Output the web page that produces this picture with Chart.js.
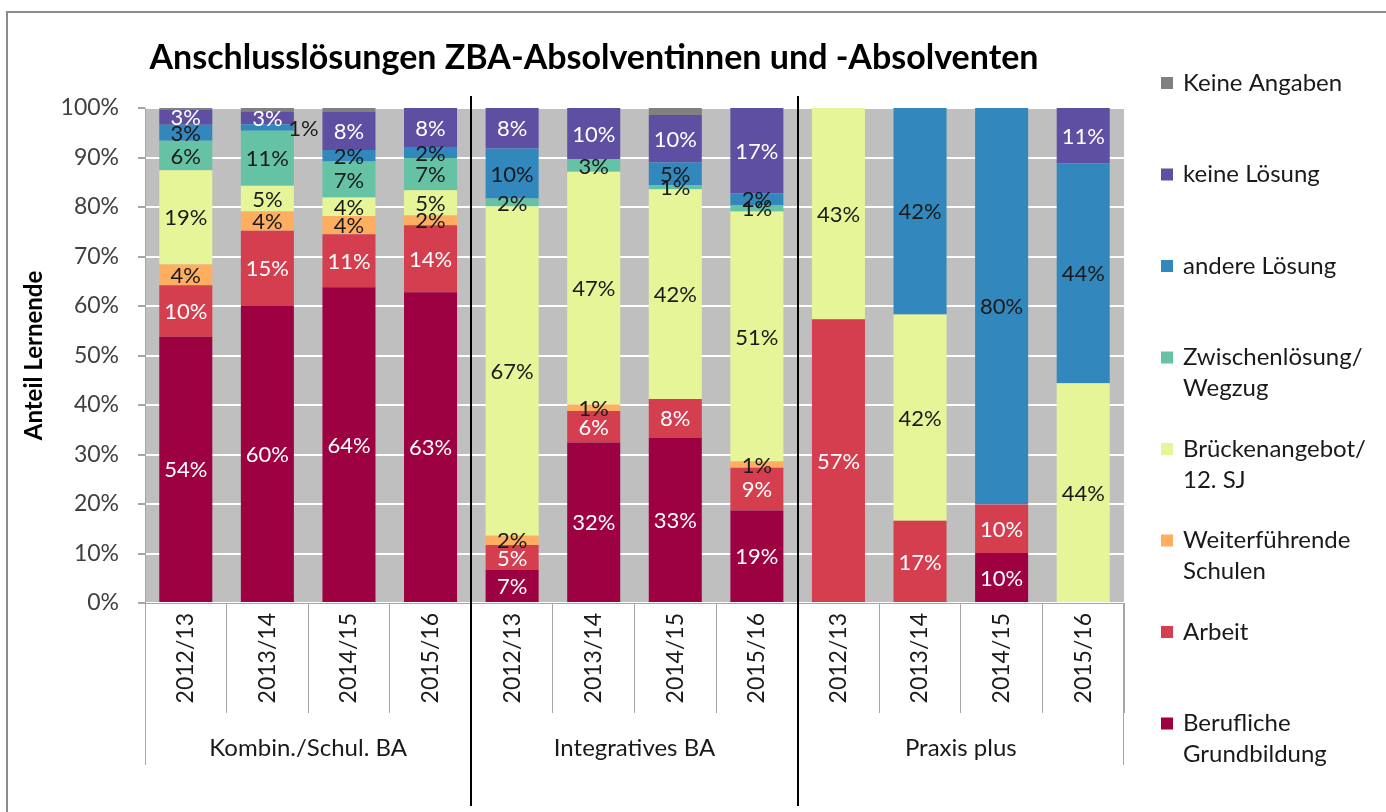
<!DOCTYPE html>
<html>
<head>
<meta charset="utf-8">
<style>
  body { margin: 0; background: #fff; }
  #wrap { width: 1386px; height: 812px; }
</style>
</head>
<body>
<div id="wrap">
  <canvas id="myChart" width="1386" height="812"></canvas>
</div>

<script src="https://cdn.jsdelivr.net/npm/chart.js"></script>

<script>
  // categories
  const years = ['2012/13', '2013/14', '2014/15', '2015/16',
                 '2012/13', '2013/14', '2014/15', '2015/16',
                 '2012/13', '2013/14', '2014/15', '2015/16'];
  const groups = ['Kombin./Schul. BA', 'Integratives BA', 'Praxis plus'];

  // shares in % (bottom to top of each bar)
  const berufliche   = [53.8, 60.0, 63.8, 62.8, 6.7, 32.4, 33.4, 18.7, 0, 0, 10.1, 0];
  const arbeit       = [10.4, 15.2, 10.7, 13.5, 5.0, 6.4, 7.8, 8.6, 57.3, 16.6, 9.8, 0];
  const weiter       = [4.2, 3.9, 3.7, 2.0, 1.9, 1.3, 0, 1.3, 0, 0, 0, 0];
  const bruecken     = [19.0, 5.2, 3.7, 5.1, 66.5, 47.0, 42.4, 50.5, 42.7, 41.7, 0, 44.4];
  const zwischen     = [6.0, 11.1, 7.3, 6.5, 1.6, 2.6, 0.8, 1.3, 0, 0, 0, 0];
  const andere       = [3.2, 1.3, 2.3, 2.2, 10.1, 0, 4.6, 2.4, 0, 41.7, 80.1, 44.4];
  const keine        = [3.1, 2.6, 7.7, 7.9, 8.2, 10.3, 9.6, 17.2, 0, 0, 0, 11.2];
  const keineAngaben = [0.3, 0.7, 0.8, 0, 0, 0, 1.4, 0, 0, 0, 0, 0];

  const yTicks = [0, 10, 20, 30, 40, 50, 60, 70, 80, 90, 100];

  const series = [
    { lines: ['Berufliche', 'Grundbildung'], data: berufliche, color: '#9E0142', text: '#FFFFFF' },
    { lines: ['Arbeit'], data: arbeit, color: '#D53E4F', text: '#FFFFFF' },
    { lines: ['Weiterführende', 'Schulen'], data: weiter, color: '#FDAE61', text: '#1A1A1A' },
    { lines: ['Brückenangebot/', '12. SJ'], data: bruecken, color: '#E6F598', text: '#1A1A1A' },
    { lines: ['Zwischenlösung/', 'Wegzug'], data: zwischen, color: '#66C2A5', text: '#1A1A1A' },
    { lines: ['andere Lösung'], data: andere, color: '#3288BD', text: '#1A1A1A' },
    { lines: ['keine Lösung'], data: keine, color: '#5E4FA2', text: '#FFFFFF' },
    { lines: ['Keine Angaben'], data: keineAngaben, color: '#808080', text: null }
  ];

  // the one label Excel moved beside its bar
  const labelShift = { '5-1': 36 };

  let datasets = [];
  for (let s of series) {
    datasets.push({
      label: s.lines.join(' '),
      data: s.data,
      backgroundColor: s.color,
      borderWidth: 0,
      barPercentage: 0.65,
      categoryPercentage: 1.0
    });
  }

  const FONT = 'Lato, "Open Sans", sans-serif';

  const decor = {
    id: 'decor',
    beforeDraw(chart) {
      const { ctx, chartArea: a } = chart;
      ctx.save();
      ctx.fillStyle = '#BFBFBF';
      ctx.fillRect(a.left, a.top, a.right - a.left, a.bottom - a.top);
      ctx.strokeStyle = '#8C8C8C';
      ctx.lineWidth = 2;
      ctx.beginPath();
      ctx.moveTo(7, 830);
      ctx.lineTo(7, 12);
      ctx.lineTo(1400, 12);
      ctx.stroke();
      ctx.restore();
    },
    afterDatasetsDraw(chart) {
      const ctx = chart.ctx;
      ctx.save();
      ctx.font = '22px ' + FONT;
      ctx.textAlign = 'center';
      ctx.textBaseline = 'middle';
      chart.data.datasets.forEach((ds, di) => {
        const col = series[di].text;
        if (!col) return;
        const meta = chart.getDatasetMeta(di);
        meta.data.forEach((bar, i) => {
          const v = ds.data[i];
          if (!v) return;
          const dx = labelShift[di + '-' + i] || 0;
          ctx.fillStyle = dx ? '#1A1A1A' : col;
          ctx.fillText(Math.round(v) + '%', bar.x + dx, (bar.y + bar.base) / 2 + 1);
        });
      });
      ctx.restore();
    },
    afterDraw(chart) {
      const { ctx, chartArea: a } = chart;
      const x = chart.scales.x;
      ctx.save();

      // title
      ctx.fillStyle = '#000';
      ctx.font = 'bold 34px ' + FONT;
      ctx.textAlign = 'center';
      ctx.textBaseline = 'middle';
      ctx.fillText('Anschlusslösungen ZBA-Absolventinnen und -Absolventen', 594, 58);

      // group labels and separators
      const edge = i => (x.getPixelForValue(i - 1) + x.getPixelForValue(i)) / 2;
      ctx.font = '24px ' + FONT;
      ctx.fillStyle = '#1A1A1A';
      for (let g = 0; g < groups.length; g++) {
        const l = g === 0 ? a.left : edge(g * 4);
        const r = g === groups.length - 1 ? a.right : edge(g * 4 + 4);
        ctx.fillText(groups[g], (l + r) / 2, 748);
      }
      ctx.strokeStyle = '#A6A6A6';
      ctx.lineWidth = 1;
      ctx.beginPath();
      ctx.moveTo(a.left + 0.5, a.bottom);
      ctx.lineTo(a.left + 0.5, 765);
      ctx.moveTo(a.right - 0.5, a.bottom);
      ctx.lineTo(a.right - 0.5, 765);
      ctx.stroke();
      ctx.strokeStyle = '#000';
      ctx.lineWidth = 2;
      ctx.beginPath();
      for (let g = 1; g < groups.length; g++) {
        const e = Math.round(edge(g * 4));
        ctx.moveTo(e, 96);
        ctx.lineTo(e, 806);
      }
      ctx.stroke();

      // legend, top entry = last series
      ctx.font = '24px ' + FONT;
      ctx.textAlign = 'left';
      const rev = series.slice().reverse();
      rev.forEach((s, k) => {
        const y0 = 83 + k * 91.5;
        ctx.fillStyle = s.color;
        ctx.fillRect(1161, y0 - 6, 12, 12);
        ctx.fillStyle = '#1A1A1A';
        s.lines.forEach((t, j) => ctx.fillText(t, 1183, y0 + j * 31));
      });
      ctx.restore();
    }
  };

  const ctx = document.getElementById('myChart');

  new Chart(ctx, {
    type: 'bar',
    data: {
      labels: years,
      datasets: datasets
    },
    plugins: [decor],
    options: {
      responsive: false,
      animation: false,
      layout: { padding: { top: 108, right: 262, left: 0, bottom: 0 } },
      plugins: {
        legend: { display: false },
        tooltip: { enabled: false }
      },
      scales: {
        x: {
          stacked: true,
          afterFit(scale) { scale.height = 209; },
          border: { color: '#A6A6A6' },
          grid: {
            offset: true,
            drawOnChartArea: false,
            tickLength: 110,
            tickColor: '#A6A6A6'
          },
          ticks: {
            minRotation: 90,
            maxRotation: 90,
            padding: -100,
            color: '#1A1A1A',
            font: { family: FONT, size: 23 }
          }
        },
        y: {
          stacked: true,
          min: 0,
          max: 100,
          afterFit(scale) { scale.width = 145; },
          afterBuildTicks(scale) { scale.ticks = yTicks.map(v => ({ value: v })); },
          border: { color: '#A6A6A6' },
          grid: {
            color: '#FFFFFF',
            lineWidth: 2,
            tickLength: 7,
            tickColor: '#A6A6A6'
          },
          ticks: {
            padding: 19,
            color: '#404040',
            font: { family: FONT, size: 23 },
            callback: v => v + '%'
          },
          title: {
            display: true,
            text: 'Anteil Lernende',
            color: '#000',
            padding: { top: 20, bottom: 0 },
            font: { family: FONT, size: 24, weight: 'bold' }
          }
        }
      }
    }
  });
</script>
</body>
</html>
